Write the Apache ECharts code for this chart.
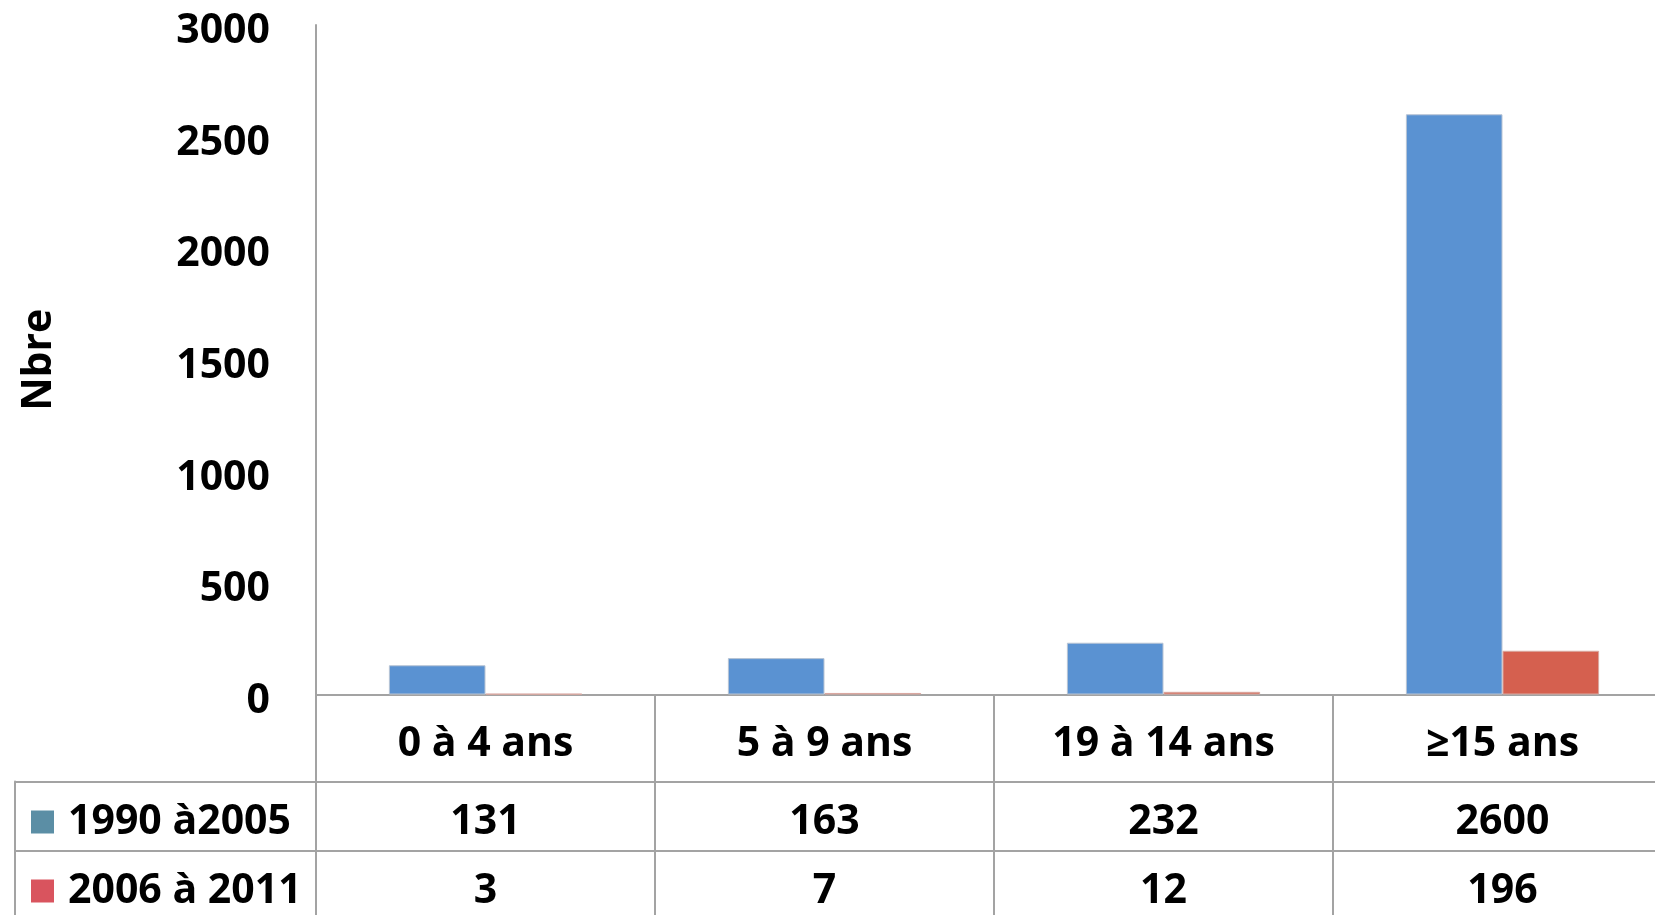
<!DOCTYPE html>
<html>
<head>
<meta charset="utf-8">
<script src="https://cdn.jsdelivr.net/npm/echarts@6/dist/echarts.min.js"></script>
<style>
html,body{margin:0;padding:0;background:#fff;}
#chart{width:1655px;height:915px;}
</style>
</head>
<body>
<div id="chart"></div>
<script>
const categories = ['0 à 4 ans', '5 à 9 ans', '19 à 14 ans', '≥15 ans'];
const seriesNames = ['1990 à2005', '2006 à 2011'];
const values1990 = [131, 163, 232, 2600];
const values2006 = [3, 7, 12, 196];
const yTicks = [0, 500, 1000, 1500, 2000, 2500, 3000];

const barColors = ['#5a92d2', '#d5604f'];
const keyColors = ['#5b8ea5', '#d9545e'];
const FONT = 'Open Sans';
const FS = 41;
const lineCol = '#a3a3a3';

const tableData = [];
[values1990, values2006].forEach((arr, r) => {
  arr.forEach((v, c) => tableData.push([c, r, v]));
});

const chart = echarts.init(document.getElementById('chart'));
chart.setOption({
  animation: false,
  textStyle: { fontFamily: FONT },
  grid: [
    { left: 316, top: 25, width: 1356, height: 669.5, containLabel: false, outerBoundsMode: 'none' },
    { left: 316, top: 781.5, width: 1356, height: 138, containLabel: false, outerBoundsMode: 'none' }
  ],
  xAxis: [
    {
      gridIndex: 0, type: 'category', data: categories,
      axisLine: { show: true, lineStyle: { color: lineCol, width: 2 } },
      axisTick: { show: true, length: 87, interval: 0, lineStyle: { color: lineCol, width: 2 } },
      axisLabel: { interval: 0, margin: 26, color: '#000', fontFamily: FONT, fontSize: FS, fontWeight: 'bold', lineHeight: 48 },
      splitLine: { show: false }
    },
    {
      gridIndex: 1, type: 'category', data: categories, position: 'top',
      axisLine: { show: true, lineStyle: { color: lineCol, width: 2 } },
      axisTick: { show: false },
      axisLabel: { show: false },
      splitLine: { show: true, interval: 0, lineStyle: { color: lineCol, width: 2 } }
    }
  ],
  yAxis: [
    {
      gridIndex: 0, type: 'value', min: yTicks[0], max: yTicks[yTicks.length - 1], interval: 500,
      name: 'Nbre', nameLocation: 'middle', nameRotate: 90, nameGap: 256,
      nameTextStyle: { color: '#000', fontFamily: FONT, fontSize: FS, fontWeight: 'bold' },
      axisLine: { show: true, lineStyle: { color: lineCol, width: 2 } },
      axisTick: { show: false },
      splitLine: { show: false },
      axisLabel: {
        margin: 46, formatter: v => '{v|' + v + '}',
        rich: { v: { color: '#000', fontFamily: FONT, fontSize: FS, fontWeight: 'bold', padding: [13, 0, 0, 0] } }
      }
    },
    {
      gridIndex: 1, type: 'category', data: seriesNames, inverse: true,
      axisLine: { show: true, lineStyle: { color: lineCol, width: 2 } },
      axisTick: { show: true, length: 301, interval: 0, lineStyle: { color: lineCol, width: 2 } },
      splitLine: { show: true, interval: 0, lineStyle: { color: lineCol, width: 2 } },
      axisLabel: {
        interval: 0, align: 'left', margin: 285, padding: [12, 0, 0, 0],
        formatter: (v, i) => '{sq' + i + '|}{gap|}{t|' + v + '}',
        rich: {
          sq0: { width: 23, height: 23, backgroundColor: keyColors[0] },
          sq1: { width: 23, height: 23, backgroundColor: keyColors[1] },
          gap: { width: 14 },
          t: { color: '#000', fontFamily: FONT, fontSize: FS, fontWeight: 'bold' }
        }
      }
    },
    {
      gridIndex: 1, type: 'category', data: seriesNames, inverse: true,
      position: 'left', offset: 301,
      axisLine: { show: true, lineStyle: { color: lineCol, width: 2 } },
      axisTick: { show: false }, axisLabel: { show: false }, splitLine: { show: false }
    }
  ],
  series: [
    {
      name: seriesNames[0], type: 'bar', xAxisIndex: 0, yAxisIndex: 0,
      data: values1990, barGap: '0%', barCategoryGap: '43%',
      itemStyle: { color: barColors[0], borderColor: '#b8c4d4', borderWidth: 1 }
    },
    {
      name: seriesNames[1], type: 'bar', xAxisIndex: 0, yAxisIndex: 0,
      data: values2006, barGap: '0%', barCategoryGap: '43%',
      itemStyle: { color: barColors[1], borderColor: '#d9a8a0', borderWidth: 1 }
    },
    {
      type: 'scatter', xAxisIndex: 1, yAxisIndex: 1, symbolSize: 0,
      itemStyle: { opacity: 1 },
      data: tableData,
      label: {
        show: true, position: 'inside', offset: [0, 6], formatter: p => String(p.value[2]),
        color: '#000', opacity: 1, textBorderWidth: 0, fontFamily: FONT, fontSize: FS, fontWeight: 'bold'
      }
    }
  ]
});
</script>
</body>
</html>
